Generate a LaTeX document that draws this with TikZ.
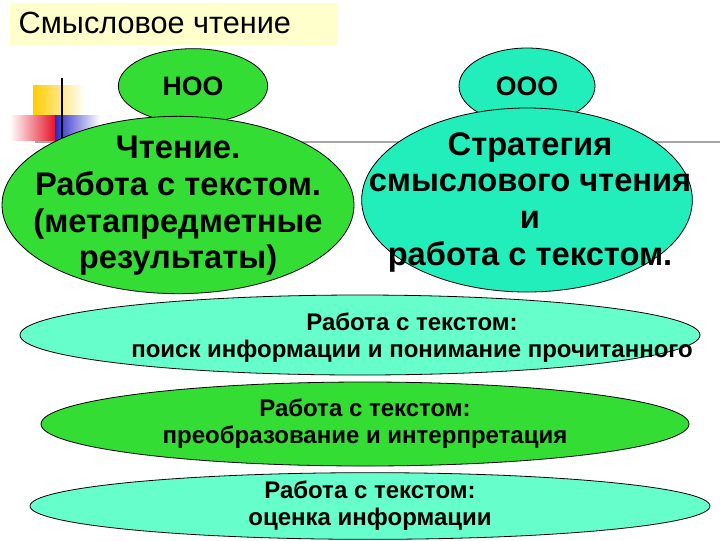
\documentclass[tikz,border=0pt]{standalone}
\usepackage{fontspec}
\setmainfont{Liberation Sans}
\usetikzlibrary{shapes.geometric}
\begin{document}
\begin{tikzpicture}[x=0.75pt,y=-0.75pt,
  ell/.style={ellipse, draw=black, line width=0.6pt, inner sep=0pt},
  grn/.style={fill={rgb,255:red,51;green,221;blue,51}},
  cyn/.style={fill={rgb,255:red,34;green,238;blue,187}},
  aqu/.style={fill={rgb,255:red,102;green,255;blue,204}},
  big/.style={align=center, font=\fontsize{24.5}{27.5}\selectfont\bfseries},
  band/.style={align=center, font=\fontsize{18}{20.5}\selectfont\bfseries},
  small/.style={font=\fontsize{20}{24}\selectfont\bfseries}]
\useasboundingbox (0,0) rectangle (720,540);
\fill[white] (0,0) rectangle (720,540);
% title
\node[fill={rgb,255:red,255;green,255;blue,204}, minimum width=246pt, minimum height=31pt, anchor=north west, inner sep=0pt] (title) at (10,3) {};
\node[anchor=west, font=\fontsize{23}{26}\selectfont] (titletext) at (14,23) {Смысловое чтение};
% decoration
\shade[left color={rgb,255:red,255;green,204;blue,0}, right color=white] (33,85) rectangle (85,116);
\shade[left color=white, right color={rgb,255:red,230;green,20;blue,40}] (10,115) rectangle (55,140);
\shade[left color={rgb,255:red,40;green,40;blue,200}, right color=white] (55,115) rectangle (100,140);
\draw[gray!70, line width=1.2pt] (35,142) -- (720,142);
\draw[black, line width=1.2pt] (62,78) -- (62,148);
% ellipses
\node[ell, grn, minimum width=112pt, minimum height=56pt] (noo) at (193,86) {};
\node[small] (nootext) at (noo) {НОО};
\node[ell, cyn, minimum width=102pt, minimum height=57pt] (ooo) at (527,86) {};
\node[small] (oootext) at (ooo) {ООО};
\node[ell, grn, minimum width=264pt, minimum height=133pt] (left) at (178,205) {};
\node[big] (lefttext) at (178,206) {Чтение.\\Работа с текстом.\\(метапредметные\\результаты)};
\node[ell, cyn, minimum width=248pt, minimum height=138pt] (right) at (527,200) {};
\node[big] (righttext) at (530,202) {Стратегия\\смыслового чтения\\и\\работа с текстом.};
\node[ell, aqu, minimum width=510pt, minimum height=60pt] (b1) at (360,335) {};
\node[band] (t1) at (412,338) {Работа с текстом:\\поиск информации и понимание прочитанного};
\node[ell, grn, minimum width=486pt, minimum height=63pt] (b2) at (365,424) {};
\node[band] (t2) at (b2) {Работа с текстом:\\преобразование и интерпретация};
\node[ell, aqu, minimum width=510pt, minimum height=50pt] (b3) at (370,506) {};
\node[band] (t3) at (b3) {Работа с текстом:\\оценка информации};
\end{tikzpicture}
\end{document}
